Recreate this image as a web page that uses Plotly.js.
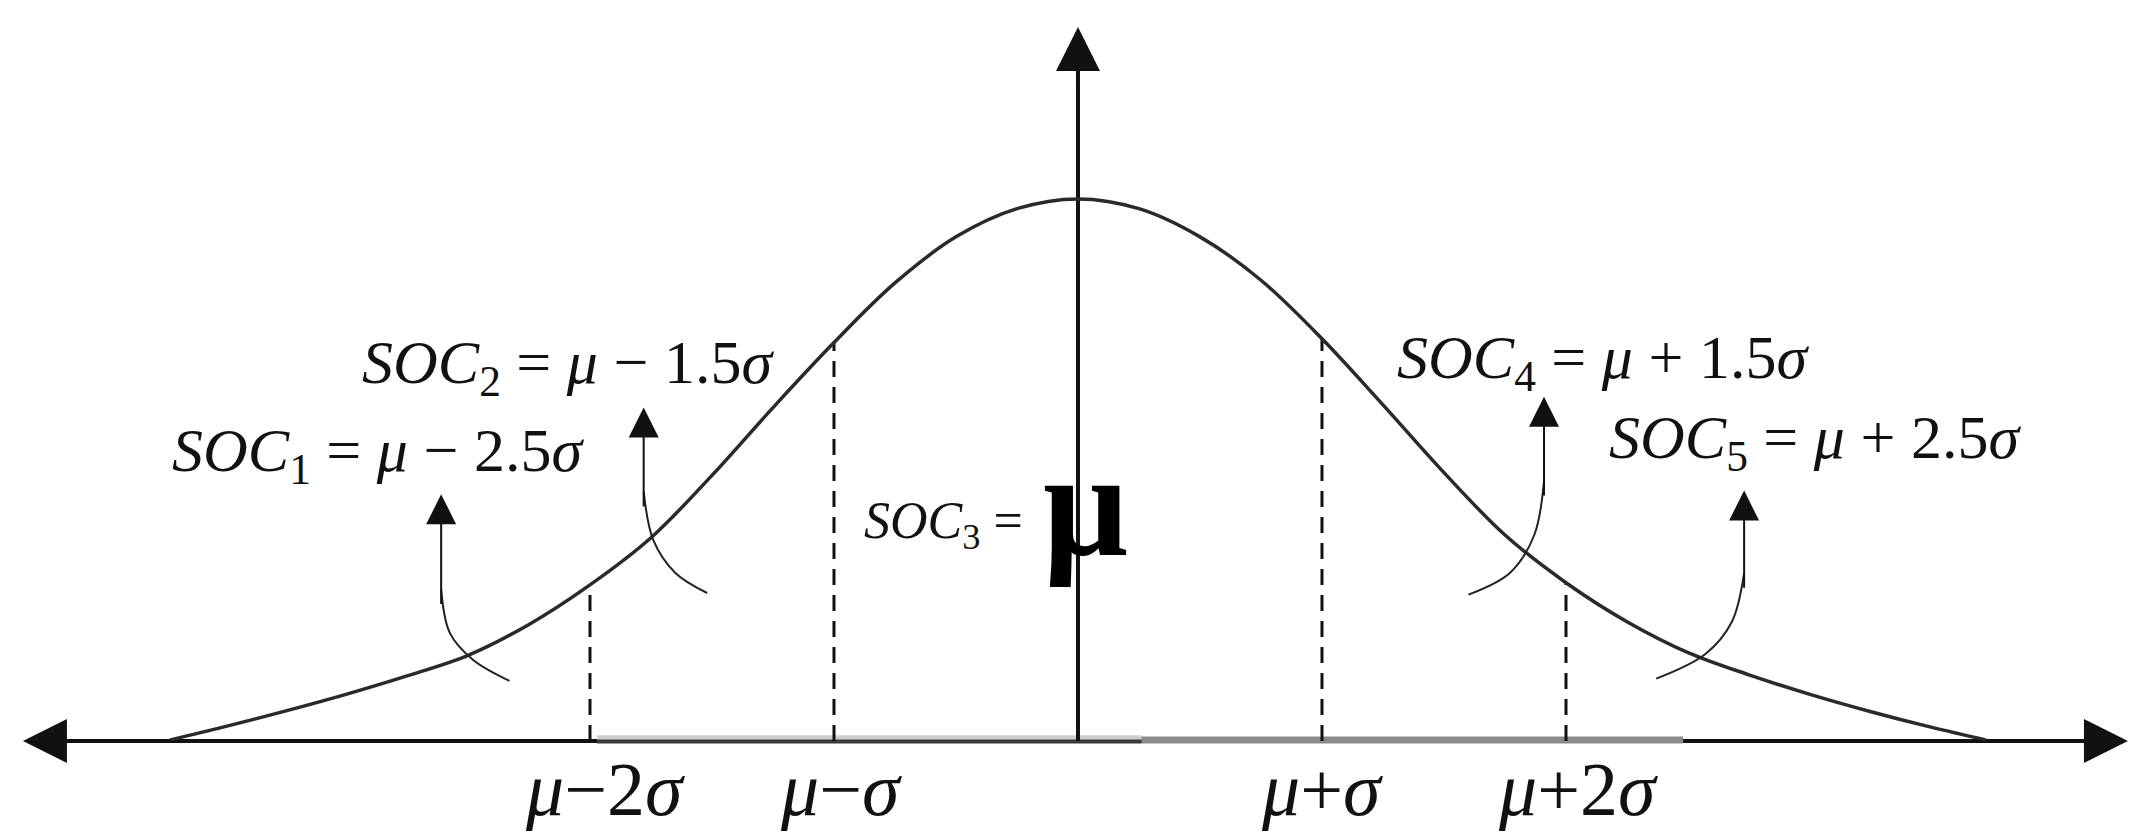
<!DOCTYPE html>
<html>
<head>
<meta charset="utf-8">
<script src="https://cdn.plot.ly/plotly-3.0.1.min.js"></script>
<style>
  html, body { margin: 0; padding: 0; background: #fff; }
  #plot { width: 2145px; height: 838px; }
</style>
</head>
<body>
<div id="plot"></div>
<script>
// bell curve (x in sigma units, y relative to the peak)
var curveX = [-3.72, -3.5, -3.25, -3.0, -2.75, -2.5, -2.25, -2.0, -1.75, -1.5, -1.25, -1.0, -0.75, -0.5, -0.25, 0,
              0.25, 0.5, 0.75, 1.0, 1.25, 1.5, 1.75, 2.0, 2.25, 2.5, 2.75, 3.0, 3.25, 3.5, 3.72];
var curveY = [0.002, 0.026, 0.055, 0.086, 0.12, 0.158, 0.215, 0.288, 0.375, 0.49, 0.615, 0.735, 0.845, 0.93, 0.982, 1.0,
              0.982, 0.93, 0.85, 0.742, 0.62, 0.495, 0.38, 0.292, 0.22, 0.163, 0.122, 0.086, 0.054, 0.025, 0.002];

// sigma marks on the axis and their labels
var sigmaMarks = [-2, -1, 1, 2];
var markLabels = ["<i>μ</i>−2<i>σ</i>", "<i>μ</i>−<i>σ</i>", "<i>μ</i>+<i>σ</i>", "<i>μ</i>+2<i>σ</i>"];

// SOC labels
var socText = [
  "<i>SOC</i><sub>1</sub> = <i>μ</i> − 2.5<i>σ</i>",
  "<i>SOC</i><sub>2</sub> = <i>μ</i> − 1.5<i>σ</i>",
  "<i>SOC</i><sub>4</sub> = <i>μ</i> + 1.5<i>σ</i>",
  "<i>SOC</i><sub>5</sub> = <i>μ</i> + 2.5<i>σ</i>"
];
var socX = [-2.87, -2.09, 2.15, 3.02];
var socY = [0.528, 0.69, 0.70, 0.553];

// curved pointer arrows (tail part, then the straight shaft to the tip)
var pointerX = [[-2.33, -2.48, -2.575, -2.61], [-1.52, -1.65, -1.74, -1.78], [1.6, 1.77, 1.87, 1.91], [2.37, 2.57, 2.68, 2.73]];
var pointerY = [[0.111, 0.15, 0.2, 0.28], [0.273, 0.31, 0.37, 0.46], [0.27, 0.31, 0.38, 0.48], [0.115, 0.16, 0.22, 0.31]];
var pointerTipY = [0.455, 0.615, 0.635, 0.462];

// shaded spans on the x axis
var darkSpan = [-1.97, 0.26];
var greySpan = [0.26, 2.48];

var serif = "Liberation Serif, Times New Roman, serif";
var ink = "#111";

var traces = [];

// x axis line
traces.push({x: [-4.2, 4.2], y: [0, 0], mode: "lines", line: {color: ink, width: 4}, hoverinfo: "skip"});
traces.push({x: darkSpan, y: [0.006, 0.006], mode: "lines", line: {color: "#cfcfcf", width: 5}, hoverinfo: "skip"});
traces.push({x: darkSpan, y: [-0.001, -0.001], mode: "lines", line: {color: "#3a3a3a", width: 4}, hoverinfo: "skip"});
traces.push({x: greySpan, y: [0.002, 0.002], mode: "lines", line: {color: "#8a8a8a", width: 7}, hoverinfo: "skip"});

// y axis line
traces.push({x: [0, 0], y: [0, 1.25], mode: "lines", line: {color: ink, width: 4}, hoverinfo: "skip"});

// dashed drop lines
sigmaMarks.forEach(function (m) {
  var top = curveY[curveX.indexOf(m)];
  traces.push({x: [m, m], y: [0, top], mode: "lines",
    line: {color: ink, width: 3, dash: "16px,10px"}, hoverinfo: "skip"});
});

// the curve
traces.push({x: curveX, y: curveY, mode: "lines",
  line: {color: "#2a2a2a", width: 3.5, shape: "spline", smoothing: 1}, hoverinfo: "skip"});

// pointer tails
pointerX.forEach(function (px, i) {
  traces.push({x: px, y: pointerY[i], mode: "lines",
    line: {color: "#222", width: 2, shape: "spline", smoothing: 1}, hoverinfo: "skip"});
});

var ann = [];

function arrow(x0, y0, x1, y1, w, s) {
  ann.push({x: x1, y: y1, ax: x0, ay: y0, xref: "x", yref: "y", axref: "x", ayref: "y",
    text: "", showarrow: true, arrowhead: 2, arrowwidth: w, arrowsize: s, arrowcolor: ink, standoff: 0});
}

// axis arrowheads
arrow(-4.1, 0, -4.324, 0, 4, 2.2);
arrow(4.1, 0, 4.303, 0, 4, 2.2);
arrow(0, 1.2, 0, 1.317, 4, 2.2);

// pointer shafts (start a little inside the tail so they join up)
pointerX.forEach(function (px, i) {
  var n = px.length - 1;
  arrow(px[n], pointerY[i][n] - 0.03, px[n], pointerTipY[i], 2, 3);
});

// SOC labels
socText.forEach(function (t, i) {
  ann.push({x: socX[i], y: socY[i], xref: "x", yref: "y", text: t, showarrow: false,
    xanchor: "center", yanchor: "middle", font: {family: serif, size: 62, color: ink}});
});

// SOC3 = mu in the middle
ann.push({x: -0.55, y: 0.40, xref: "x", yref: "y", text: "<i>SOC</i><sub>3</sub> =", showarrow: false,
  xanchor: "center", yanchor: "middle", font: {family: serif, size: 52, color: ink}});
ann.push({x: 0.03, y: 0.437, xref: "x", yref: "y", text: "<b>μ</b>", showarrow: false,
  xanchor: "center", yanchor: "middle", font: {family: serif, size: 150, color: "#000"}});

// sigma tick labels under the axis
var markShift = [0.06, 0.03, 0.0, 0.05];
sigmaMarks.forEach(function (m, i) {
  ann.push({x: m + markShift[i], y: -0.089, xref: "x", yref: "y",
    text: markLabels[i], showarrow: false, xanchor: "center", yanchor: "middle",
    font: {family: serif, size: 76, color: ink}});
});

var layout = {
  width: 2145,
  height: 838,
  margin: {l: 0, r: 0, t: 0, b: 0},
  paper_bgcolor: "#fff",
  plot_bgcolor: "#fff",
  showlegend: false,
  xaxis: {range: [-4.418, 4.373], visible: false, fixedrange: true},
  yaxis: {range: [-0.179, 1.367], visible: false, fixedrange: true},
  annotations: ann
};

Plotly.newPlot("plot", traces, layout, {staticPlot: true});
</script>
</body>
</html>
